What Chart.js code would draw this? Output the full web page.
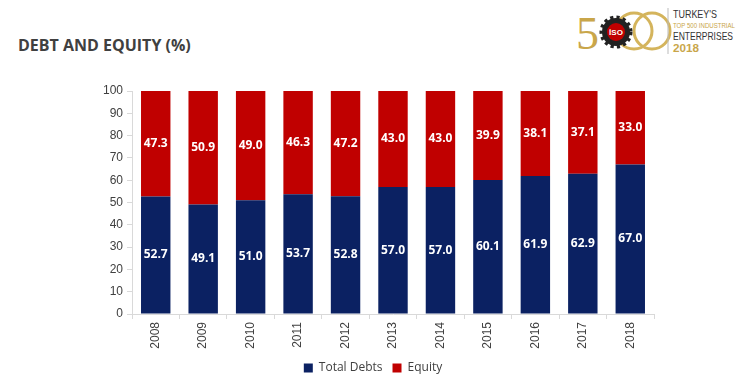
<!DOCTYPE html>
<html>
<head>
<meta charset="utf-8">
<script src="https://cdn.jsdelivr.net/npm/chart.js@4"></script>
<style>
  html, body { margin: 0; padding: 0; background: #fff; }
  #wrap { position: relative; width: 740px; height: 388px; overflow: hidden; }
  #title { position: absolute; left: 18px; top: 34px; font: bold 16px "Open Sans", sans-serif; color: #404040; }
  #logo { position: absolute; left: 572px; top: 2px; }
  #chartBox { position: absolute; left: 0; top: 0; width: 740px; height: 388px; }
</style>
</head>
<body>
<div id="wrap">
  <div id="title">DEBT AND EQUITY (%)</div>
  <svg id="logo" width="168" height="56" viewBox="0 0 168 56">
    <text x="4" y="47" font-family="Liberation Serif, serif" font-size="46" fill="#c9a64a">5</text>
    <circle cx="62" cy="29" r="18" fill="none" stroke="#d4b45c" stroke-width="3"/>
    <circle cx="80" cy="29" r="18" fill="none" stroke="#d4b45c" stroke-width="3"/>
    <circle cx="44" cy="30" r="14" fill="#222" stroke="#222" stroke-width="5" stroke-dasharray="3 3"/>
    <circle cx="44" cy="30" r="9" fill="#c00000"/>
    <text x="44" y="33" text-anchor="middle" font-family="Liberation Sans, sans-serif" font-weight="bold" font-size="8" fill="#fff">İSO</text>
    <line x1="96" y1="6" x2="96" y2="52" stroke="#bbb" stroke-width="1"/>
    <text x="101" y="16" font-family="Liberation Sans, sans-serif" font-size="11" fill="#333" textLength="44" lengthAdjust="spacingAndGlyphs">TURKEY'S</text>
    <text x="101" y="26" font-family="Liberation Sans, sans-serif" font-size="7" fill="#c9a64a" textLength="62" lengthAdjust="spacingAndGlyphs">TOP 500 INDUSTRIAL</text>
    <text x="101" y="38" font-family="Liberation Sans, sans-serif" font-size="11" fill="#333" textLength="60" lengthAdjust="spacingAndGlyphs">ENTERPRISES</text>
    <text x="101" y="50" font-family="Liberation Sans, sans-serif" font-weight="bold" font-size="11" fill="#c9a64a" textLength="26" lengthAdjust="spacingAndGlyphs">2018</text>
  </svg>
  <div id="chartBox"><canvas id="chart"></canvas></div>
</div>
<script>
const years = ["2008", "2009", "2010", "2011", "2012", "2013", "2014", "2015", "2016", "2017", "2018"];
const totalDebts = [52.7, 49.1, 51.0, 53.7, 52.8, 57.0, 57.0, 60.1, 61.9, 62.9, 67.0];
const equity = [47.3, 50.9, 49.0, 46.3, 47.2, 43.0, 43.0, 39.9, 38.1, 37.1, 33.0];
const yTicks = [0, 10, 20, 30, 40, 50, 60, 70, 80, 90, 100];

// white labels in the middle of each bar segment
const barLabels = {
    id: "barLabels",
    afterDatasetsDraw(chart) {
        const ctx = chart.ctx;
        ctx.save();
        ctx.fillStyle = "#fff";
        ctx.font = "bold 12px 'Open Sans', sans-serif";
        ctx.textAlign = "center";
        ctx.textBaseline = "middle";
        chart.data.datasets.forEach((ds, i) => {
            chart.getDatasetMeta(i).data.forEach((bar, j) => {
                const mid = (bar.y + bar.base) / 2;
                ctx.fillText(ds.data[j].toFixed(1), bar.x, mid);
            });
        });
        ctx.restore();
    }
};

new Chart(document.getElementById("chart"), {
    type: "bar",
    data: {
        labels: years,
        datasets: [
            { label: "Total Debts", data: totalDebts, backgroundColor: "#0b2162" },
            { label: "Equity", data: equity, backgroundColor: "#c00000" }
        ]
    },
    options: {
        responsive: true,
        maintainAspectRatio: false,
        animation: false,
        categoryPercentage: 0.62,
        barPercentage: 1,
        layout: { padding: { left: 92, right: 86, top: 91, bottom: 4 } },
        plugins: {
            tooltip: { enabled: false },
            legend: {
                position: "bottom",
                labels: {
                    boxWidth: 9, boxHeight: 9, padding: 10,
                    color: "#404040",
                    font: { family: "'Open Sans', sans-serif", size: 12 }
                }
            }
        },
        scales: {
            x: {
                stacked: true,
                grid: { display: true, drawOnChartArea: false, offset: true, tickLength: 5, color: "#d9d9d9" },
                border: { color: "#d9d9d9" },
                ticks: {
                    color: "#404040", maxRotation: 90, minRotation: 90,
                    font: { family: "'Liberation Sans', sans-serif", size: 12 }
                },
                afterFit(scale) { scale.height = 38; }
            },
            y: {
                stacked: true,
                min: 0, max: 100,
                afterBuildTicks(scale) { scale.ticks = yTicks.map(v => ({ value: v })); },
                grid: { display: true, drawOnChartArea: false, tickLength: 5, color: "#d9d9d9" },
                border: { color: "#d9d9d9" },
                ticks: {
                    color: "#404040", padding: 4,
                    font: { family: "'Liberation Sans', sans-serif", size: 12 }
                },
                afterFit(scale) { scale.width = 40; }
            }
        }
    },
    plugins: [barLabels]
});
</script>
</body>
</html>
